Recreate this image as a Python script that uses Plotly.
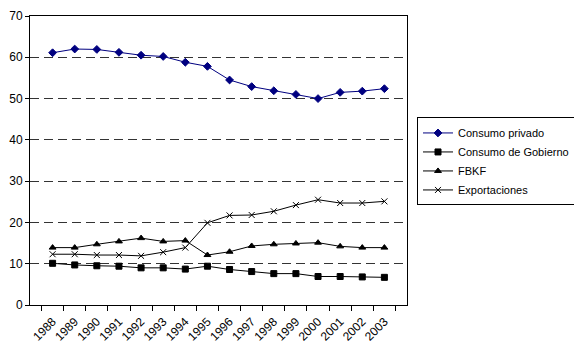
import plotly.graph_objects as go

years = [str(y) for y in range(1988, 2004)]

consumo_privado = [61.1, 62.0, 61.9, 61.2, 60.5, 60.2, 58.8, 57.8,
                   54.5, 52.9, 51.9, 51.0, 50.0, 51.5, 51.8, 52.4]
consumo_gobierno = [10.1, 9.7, 9.5, 9.4, 9.0, 9.0, 8.7, 9.4,
                    8.6, 8.1, 7.6, 7.6, 6.9, 6.9, 6.8, 6.7]
fbkf = [13.9, 13.9, 14.7, 15.4, 16.2, 15.4, 15.6, 12.1,
        12.9, 14.3, 14.7, 14.9, 15.1, 14.2, 13.9, 13.9]
exportaciones = [12.3, 12.3, 12.1, 12.1, 11.9, 12.8, 13.9, 19.9,
                 21.7, 21.8, 22.7, 24.2, 25.5, 24.7, 24.7, 25.1]

series = [
    ("Consumo privado", consumo_privado, "#000080", "diamond", 6),
    ("Consumo de Gobierno", consumo_gobierno, "#000000", "square", 6),
    ("FBKF", fbkf, "#000000", "triangle-up", 6),
    ("Exportaciones", exportaciones, "#000000", "x-thin-open", 6),
]

fig = go.Figure()
for name, vals, color, symbol, size in series:
    fig.add_trace(go.Scatter(
        x=years, y=vals, name=name, mode="lines+markers",
        line=dict(color=color, width=1),
        marker=dict(symbol=symbol, size=size, color=color,
                    line=dict(color=color, width=1)),
    ))

font = dict(family="Liberation Sans, Arial, sans-serif", size=12, color="#000000")

fig.update_layout(
    width=574, height=355,
    margin=dict(l=30, r=163, t=9, b=50),
    paper_bgcolor="white", plot_bgcolor="white",
    font=font,
    showlegend=True,
    legend=dict(
        xref="container", x=417 / 574, xanchor="left",
        yref="paper", y=0.649, yanchor="top",
        bordercolor="#000000", borderwidth=1, bgcolor="white",
        font=dict(family="Liberation Sans, Arial, sans-serif", size=11),
        tracegroupgap=0, itemwidth=30,
    ),
)

fig.update_xaxes(
    type="category", tickson="boundaries", ticks="outside", ticklen=5,
    tickcolor="#000000", tickangle=-45, showgrid=False,
    showline=True, linecolor="#000000", linewidth=1, mirror=True,
    tickfont=dict(size=12), ticklabelstandoff=4,
)
fig.update_yaxes(
    range=[0, 70], dtick=10, ticks="outside", ticklen=4, tickcolor="#000000",
    showgrid=True, gridcolor="#333333", griddash="9px,5px", gridwidth=1,
    showline=True, linecolor="#000000", linewidth=1, mirror=True,
    zeroline=False, tickfont=dict(size=12),
)

fig.write_html("out.html")
